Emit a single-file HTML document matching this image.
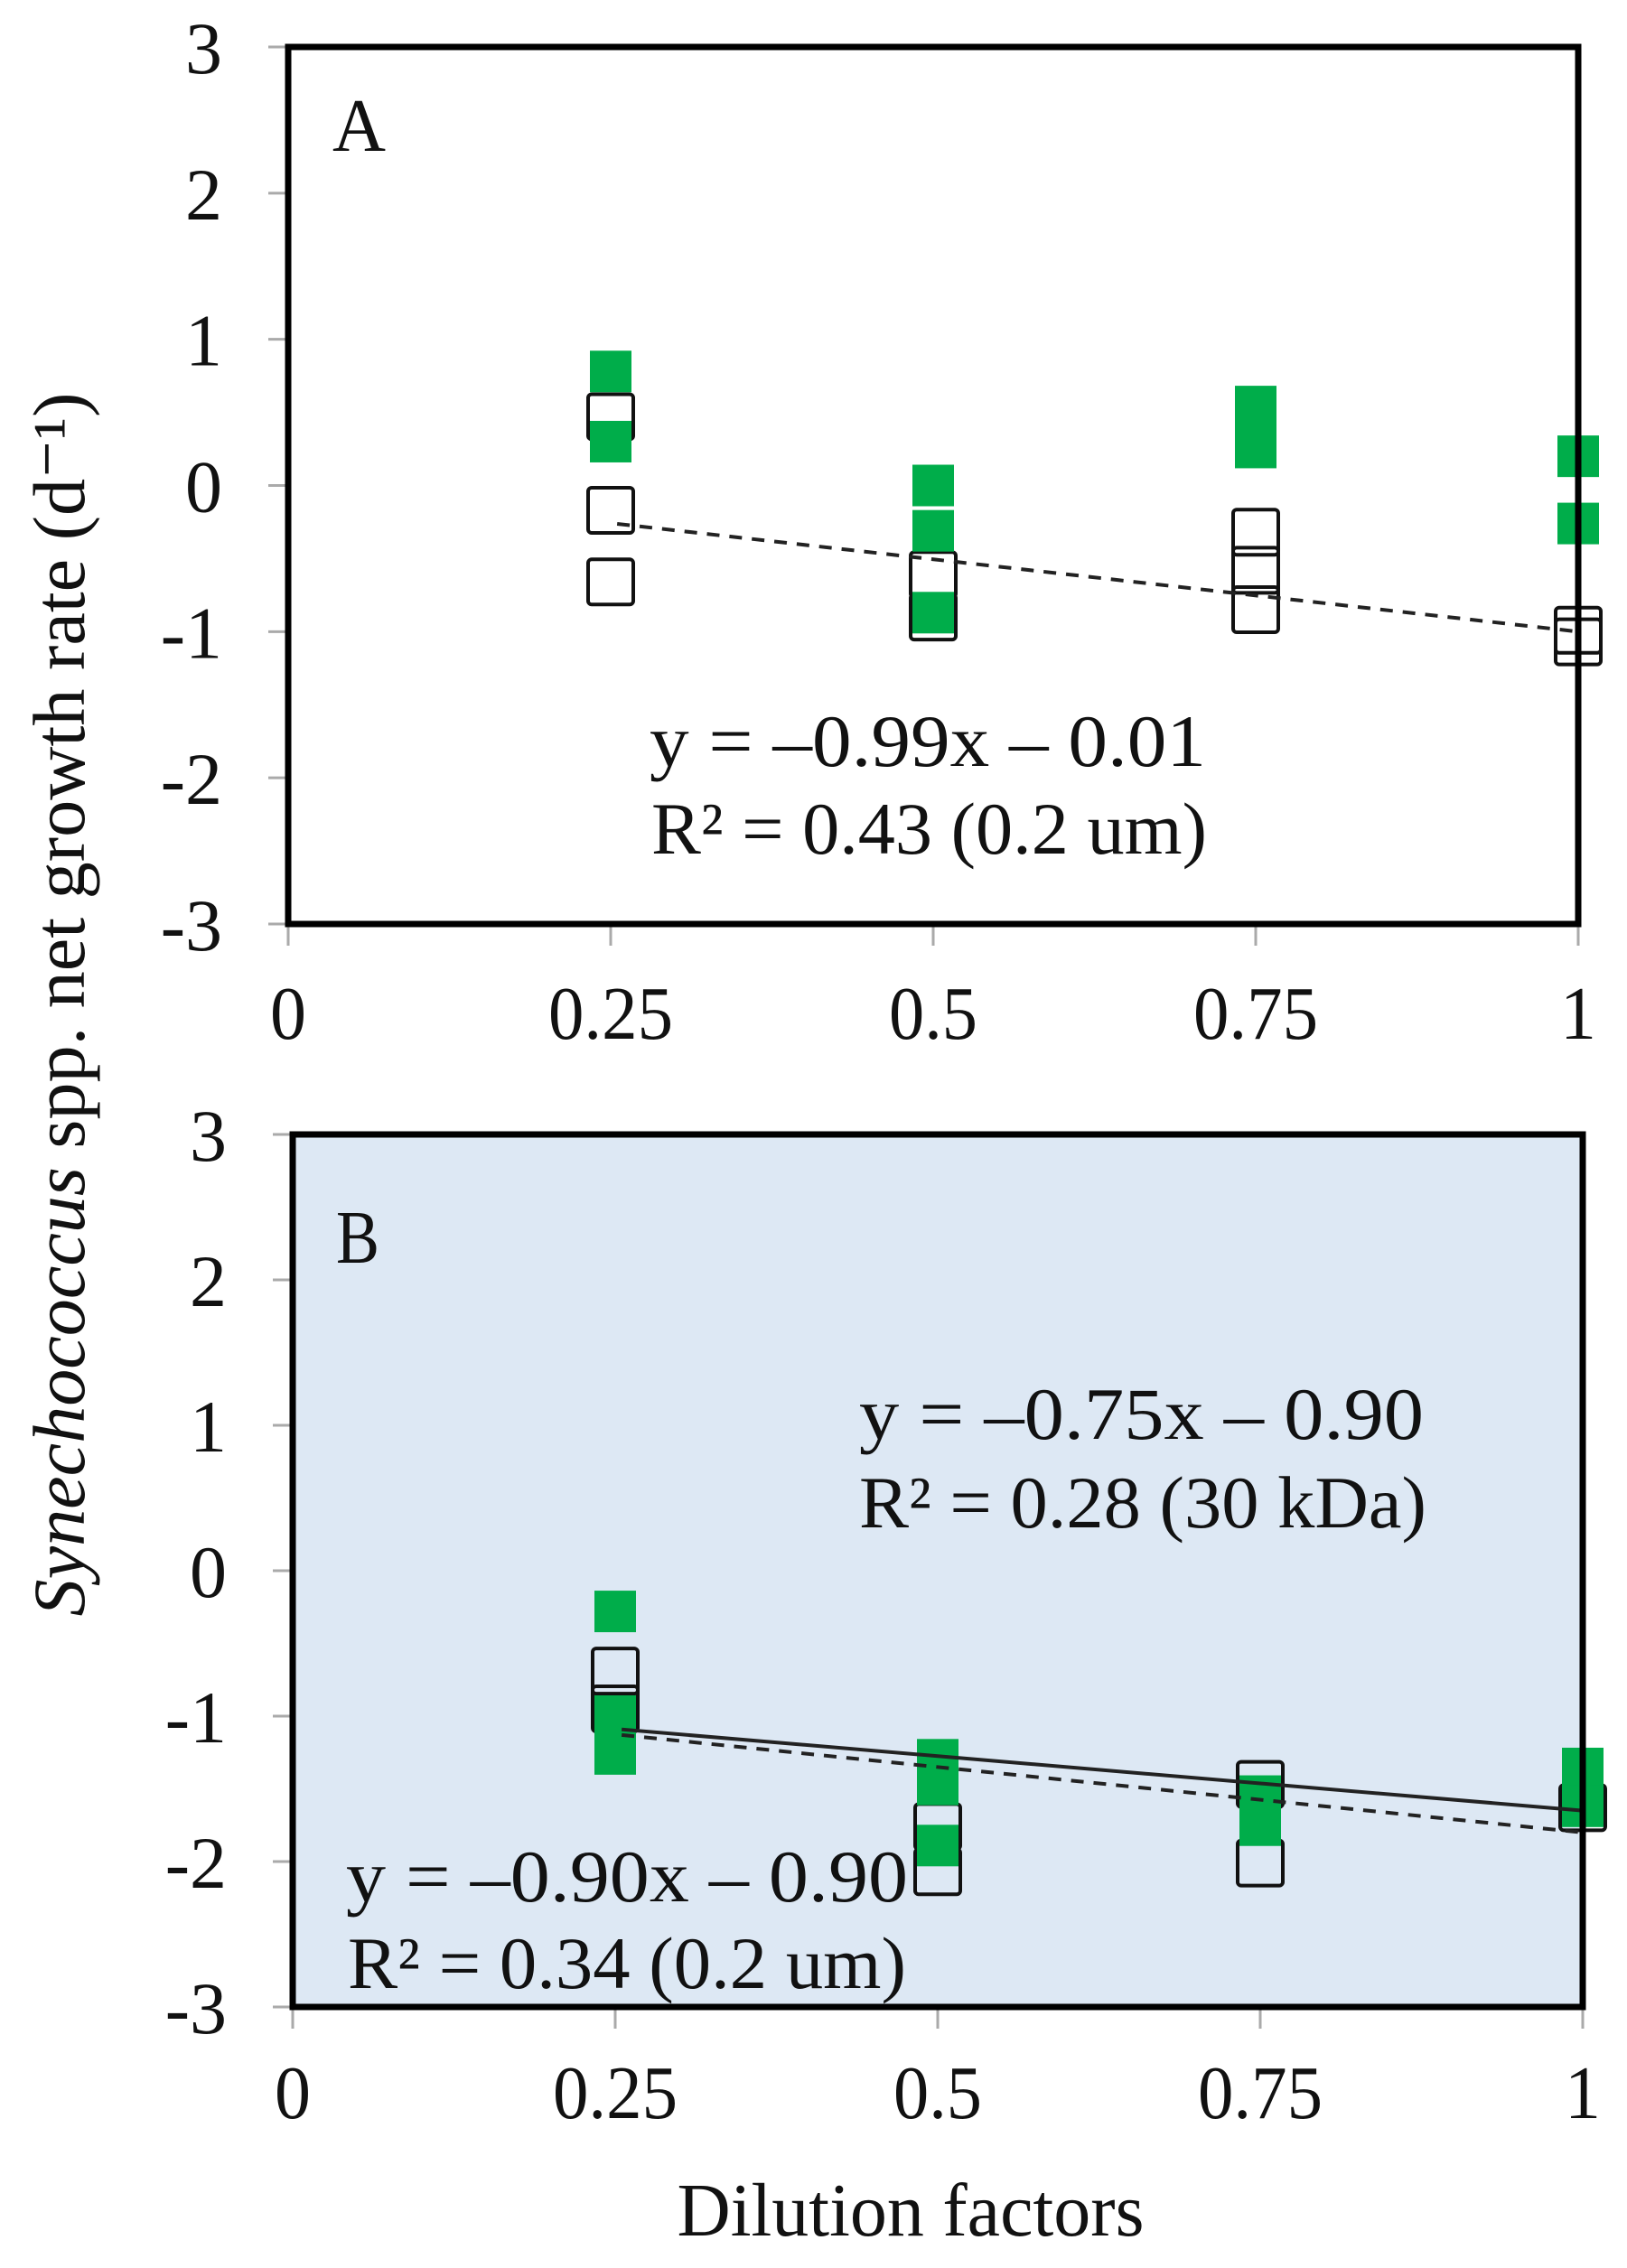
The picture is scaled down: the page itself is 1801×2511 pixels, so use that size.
<!DOCTYPE html>
<html><head><meta charset="utf-8"><style>
html,body{margin:0;padding:0;background:#fff;}
svg{display:block;font-family:"Liberation Serif",serif;}
</style></head><body>
<svg id="chart" width="1801" height="2511" viewBox="0 0 1801 2511" xmlns="http://www.w3.org/2000/svg">
<g id="axesLayer"></g>
</svg>
<script>
// ---- data ----
const yTicks = [3, 2, 1, 0, -1, -2, -3];
const yTickLabels = ["3", "2", "1", "0", "-1", "-2", "-3"];
const xTicks = [0, 0.25, 0.5, 0.75, 1];
const xTickLabels = ["0", "0.25", "0.5", "0.75", "1"];

// Panel A
const aHollowX = [0.25, 0.25, 0.25, 0.5, 0.5, 0.75, 0.75, 0.75, 1, 1];
const aHollowY = [0.47, -0.17, -0.66, -0.61, -0.9, -0.32, -0.58, -0.85, -0.99, -1.07];
const aGreenX = [0.25, 0.25, 0.5, 0.5, 0.5, 0.75, 0.75, 1, 1];
const aGreenY = [0.78, 0.3, 0.0, -0.31, -0.87, 0.54, 0.26, 0.2, -0.26];
const aFitSlope = -0.99, aFitIntercept = -0.01;

// Panel B
const bHollowX = [0.25, 0.25, 0.5, 0.5, 0.75, 0.75, 1];
const bHollowY = [-0.69, -0.95, -1.76, -2.07, -1.47, -2.01, -1.63];
const bGreenX = [0.25, 0.25, 0.25, 0.5, 0.5, 0.5, 0.75, 0.75, 1, 1, 1];
const bGreenY = [-0.28, -1.0, -1.26, -1.3, -1.47, -1.89, -1.55, -1.75, -1.36, -1.5, -1.62];
const bFit30Slope = -0.75, bFit30Intercept = -0.90;
const bFit02Slope = -0.90, bFit02Intercept = -0.90;
const fitStart = 0.255, fitEnd = 1;

const NS = "http://www.w3.org/2000/svg";
const root = document.getElementById("axesLayer");
function mk(tag, attrs, parent) {
  const e = document.createElementNS(NS, tag);
  for (const k in attrs) e.setAttribute(k, attrs[k]);
  (parent || root).appendChild(e);
  return e;
}
function panel(p) {
  const g = mk("g", {});
  
  
  const sx = v => p.x0 + (p.x1 - p.x0) * v;
  const sy = v => p.y0 + (p.y1 - p.y0) * (3 - v) / 6;
  const bg = mk("rect", {x: p.x0, y: p.y0, width: p.x1 - p.x0, height: p.y1 - p.y0, fill: p.bg, stroke: "none"}, g);
  
  
  yTicks.forEach((t, i) => {
    const tk = mk("line", {x1: p.x0 - 22, x2: p.x0, y1: sy(t), y2: sy(t), stroke: "#aaa", "stroke-width": 3}, g);
    
    
    const lab = yTickLabels[i];
    const tx = mk("text", {x: p.ylabX, y: sy(t) + 29, "font-size": 82, "text-anchor": "end", fill: "#111"}, g);
    tx.textContent = lab;
    
    
  });
  xTicks.forEach((t, i) => {
    const tk = mk("line", {x1: sx(t), x2: sx(t), y1: p.y1, y2: p.y1 + 24, stroke: "#aaa", "stroke-width": 3}, g);
    
    
    const lab = xTickLabels[i];
    const w = lab.length === 1 ? 40 : (lab.length - 1) * 40 + 18;
    const tx = mk("text", {x: sx(t), y: p.xlabY, "font-size": 84, "text-anchor": "middle", fill: "#111", textLength: w, lengthAdjust: "spacingAndGlyphs"}, g);
    tx.textContent = lab;
    
    
  });
  const S = 50;
  p.hx.forEach((xv, i) => {
    const r = mk("rect", {x: sx(xv) - S / 2, y: sy(p.hy[i]) - S / 2, width: S, height: S, rx: 4, fill: "none", stroke: "#111", "stroke-width": 4}, g);
    
    
  });
  const G = 46;
  p.gx.forEach((xv, i) => {
    const r = mk("rect", {x: sx(xv) - G / 2, y: sy(p.gy[i]) - G / 2, width: G, height: G, fill: "#00ad4a"}, g);
    
    
  });
  p.fits.forEach(f => {
    const l = mk("line", {x1: sx(fitStart), y1: sy(f.m * fitStart + f.b), x2: sx(fitEnd), y2: sy(f.m * fitEnd + f.b), stroke: "#222", "stroke-width": 4, "stroke-dasharray": f.dash ? "14 11" : "none"}, g);
    
    
  });
  const fr = mk("rect", {x: p.x0, y: p.y0, width: p.x1 - p.x0, height: p.y1 - p.y0, fill: "none", stroke: "#000", "stroke-width": 7}, g);
  
  
  p.texts.forEach(t => {
    const tx = mk("text", {x: t.x, y: t.y, "font-size": t.fs, fill: "#111", textLength: t.w, lengthAdjust: "spacingAndGlyphs"}, g);
    tx.textContent = t.s;
    
    
  });
}
panel({name: "panel-a", x0: 319, x1: 1747, y0: 52, y1: 1023, bg: "#ffffff", ylabX: 246, xlabY: 1150,
  hx: aHollowX, hy: aHollowY, gx: aGreenX, gy: aGreenY,
  fits: [{m: aFitSlope, b: aFitIntercept, dash: true, name: "trendline-0-2um"}],
  texts: [
    {s: "A", x: 368, y: 167, fs: 84, w: 59, name: "panel-label-a"},
    {s: "y = \u20130.99x \u2013 0.01", x: 719, y: 848, fs: 82, w: 616, name: "equation-0-2um"},
    {s: "R\u00b2 = 0.43 (0.2 um)", x: 721, y: 945, fs: 82, w: 615, name: "r-squared-0-2um"}
  ]});
panel({name: "panel-b", x0: 324, x1: 1752, y0: 1256, y1: 2222, bg: "#dde8f4", ylabX: 251, xlabY: 2345,
  hx: bHollowX, hy: bHollowY, gx: bGreenX, gy: bGreenY,
  fits: [{m: bFit02Slope, b: bFit02Intercept, dash: true, name: "trendline-0-2um"},
         {m: bFit30Slope, b: bFit30Intercept, dash: false, name: "trendline-30kda"}],
  texts: [
    {s: "B", x: 372, y: 1398, fs: 84, w: 48, name: "panel-label-b"},
    {s: "y = \u20130.75x \u2013 0.90", x: 951, y: 1593, fs: 82, w: 625, name: "equation-30kda"},
    {s: "R\u00b2 = 0.28 (30 kDa)", x: 951, y: 1691, fs: 82, w: 628, name: "r-squared-30kda"},
    {s: "y = \u20130.90x \u2013 0.90", x: 383, y: 2105, fs: 82, w: 622, name: "equation-0-2um"},
    {s: "R\u00b2 = 0.34 (0.2 um)", x: 385, y: 2201, fs: 82, w: 618, name: "r-squared-0-2um"}
  ]});
const xt = mk("text", {x: 1008, y: 2475, "font-size": 84, "text-anchor": "middle", fill: "#111", textLength: 517, lengthAdjust: "spacingAndGlyphs"});
xt.textContent = "Dilution factors";


const yt = mk("text", {x: 0, y: 0, transform: "translate(93,1112) rotate(-90)", "font-size": 82, "text-anchor": "middle", fill: "#111", textLength: 1355, lengthAdjust: "spacingAndGlyphs"});


const it = mk("tspan", {"font-style": "italic"}, yt);
it.textContent = "Synechococcus";
const rest = mk("tspan", {}, yt);
rest.textContent = " spp. net growth rate (d\u207b\u00b9)";
</script>
</body></html>
